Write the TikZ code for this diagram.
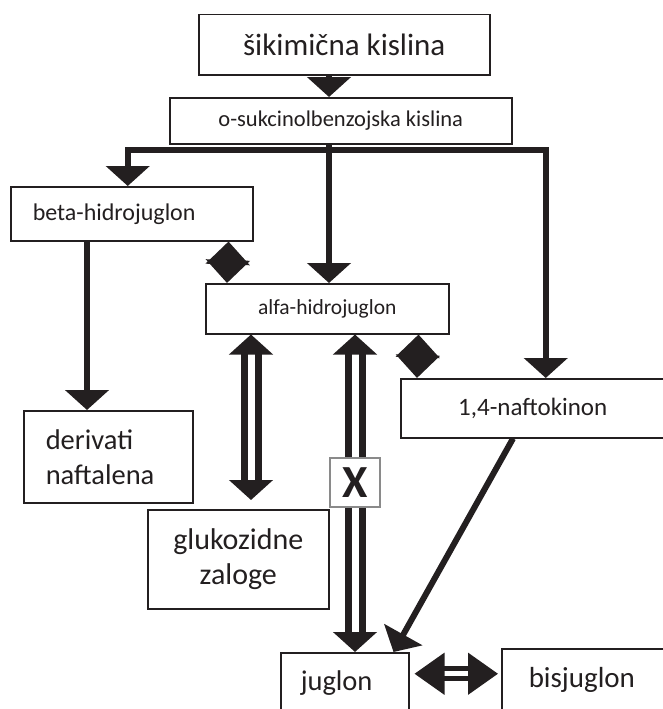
\documentclass[tikz,border=0pt]{standalone}
\usepackage{fontspec}
\setmainfont{Carlito}
\usetikzlibrary{arrows.meta,calc,positioning}
\definecolor{Ink}{HTML}{231F20}
\definecolor{Frame}{HTML}{8A8A8A}

\begin{document}
\begin{tikzpicture}[x=1pt, y=-1pt, >={Triangle[width=43pt,length=20pt]},
    box/.style={draw=Ink, line width=1.5pt, fill=white, text=Ink, inner sep=0pt, anchor=north west},
    arr/.style={draw=Ink, line width=6pt, ->},
    diam/.style={draw=Ink, line width=6pt, {Triangle[width=43pt,length=23pt]}-{Triangle[width=43pt,length=23pt]}},
    dbl/.style={draw=Ink, line width=7pt, double=white, double distance=7pt, <->},
    xbox/.style={draw=Frame, line width=2pt, fill=white, text=Ink, inner sep=0pt, minimum width=50pt, minimum height=49pt, font=\fontsize{46}{46}\selectfont\bfseries}]
    \useasboundingbox (0,0) rectangle (662,709);

    \node[box, minimum width=291pt, minimum height=60pt, font=\fontsize{31}{37}\selectfont] (sik) at (198,14) {šikimična kislina};
    \node[box, minimum width=342pt, minimum height=46pt, font=\fontsize{22.5}{27}\selectfont] (osb) at (169,97) {o-sukcinolbenzojska kislina};
    \node[box, minimum width=242pt, minimum height=54pt, inner xsep=22pt, text width=198pt, align=left, font=\fontsize{24}{29}\selectfont] (beta) at (10,186) {beta-hidrojuglon};
    \node[box, minimum width=243pt, minimum height=50pt, font=\fontsize{21.5}{26}\selectfont] (alfa) at (205,283) {alfa-hidrojuglon};
    \node[box, minimum width=264pt, minimum height=59pt, font=\fontsize{25}{30}\selectfont] (nafto) at (400,378) {1,4-naftokinon};
    \node[box, minimum width=169pt, minimum height=92pt, inner xsep=22pt, text width=125pt, align=left, font=\fontsize{28.5}{35}\selectfont] (deriv) at (23,410) {derivati\\naftalena};
    \node[box, minimum width=181pt, minimum height=99pt, align=center, font=\fontsize{30}{35}\selectfont] (gluk) at (147,509) {glukozidne\\zaloge};
    \node[box, minimum width=128pt, minimum height=60pt, inner xsep=20pt, text width=88pt, align=left, font=\fontsize{28.5}{35}\selectfont] (jug) at (280,652) {juglon};
    \node[box, minimum width=180pt, minimum height=62pt, inner xsep=27pt, text width=126pt, align=left, font=\fontsize{29}{35}\selectfont] (bis) at (501,648) {bisjuglon};

    % branching below o-sukcinolbenzojska kislina
    \coordinate (split) at (329,150);
    \draw[arr] (sik.south -| split) -- (osb.north -| split);
    \draw[arr, -] (osb.south -| split) -- (split);
    \draw[arr] (split) -| ([xshift=-4pt]beta.north);
    \draw[arr] (split) -| ([xshift=13pt]nafto.north);
    \draw[arr] (split) -- (alfa.north -| split);

    \draw[diam] ([xshift=-25pt]beta.south east) -- ([xshift=22pt]alfa.north west);
    \draw[diam] ([xshift=-31pt]alfa.south east) -- ([xshift=17pt]nafto.north west);
    \draw[arr] ([xshift=77pt]beta.south west) -- ([xshift=64pt]deriv.north west);

    \draw[dbl, shorten >=9pt] ([xshift=46pt]alfa.south west) -- ([xshift=104pt]gluk.north west);
    \draw[dbl] ([xshift=150pt]alfa.south west) -- ([xshift=75pt]jug.north west) node[xbox, pos=0.467] (block) {X};
    \draw[arr] ([xshift=113pt]nafto.south west) -- ([xshift=-16pt]jug.north east);
    \draw[draw=Ink, line width=5pt, double=white, double distance=5pt, {Triangle[width=41pt,length=30pt]}-{Triangle[width=41pt,length=30pt]}, shorten <=5pt, shorten >=3pt] ([yshift=9pt]jug.east) -- ([yshift=9pt]jug.east -| bis.west);
\end{tikzpicture}
\end{document}
